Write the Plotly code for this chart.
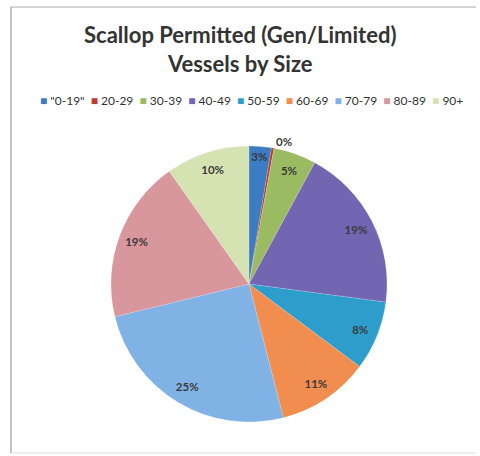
import plotly.graph_objects as go

categories = ['"0-19"', "20-29", "30-39", "40-49", "50-59", "60-69", "70-79", "80-89", "90+"]
shares = [2.6, 0.3, 5.0, 19.2, 8.1, 10.8, 25.2, 19.0, 9.8]
colors = ["#3b7cc2", "#c0392b", "#9bbb62", "#7266b2", "#2d9dcc", "#f08d4f", "#80b2e6", "#d8969d", "#d5e3b3"]
text_pos = ["inside", "outside", "inside", "inside", "inside", "inside", "inside", "inside", "inside"]

W, H = 480, 456
dom = dict(x=[111 / W, 387 / W], y=[1 - 422 / H, 1 - 146 / H])

fig = go.Figure()
# filled pie
fig.add_trace(go.Pie(
    labels=categories, values=shares, sort=False, direction="clockwise", rotation=0,
    marker=dict(colors=colors, line=dict(color="rgba(255,255,255,0.3)", width=0.5)),
    textinfo="none", domain=dom, showlegend=False, hoverinfo="label+percent",
))
# transparent ring carrying the percentage labels near the rim
fig.add_trace(go.Pie(
    labels=categories, values=shares, sort=False, direction="clockwise", rotation=0,
    hole=0.74,
    marker=dict(colors=["rgba(0,0,0,0)"] * len(shares), line=dict(width=0)),
    texttemplate="<b>%{percent:.0%}</b>",
    textposition=text_pos,
    insidetextorientation="horizontal",
    textfont=dict(family="Lato", size=11.5, color="#3a3a3a"),
    domain=dom, showlegend=False, hoverinfo="skip",
))

legend_html = "&nbsp;&nbsp;".join(
    f'<span style="color:{c}">■</span> {lab}' for lab, c in zip(categories, colors)
)

fig.update_layout(
    width=W, height=H,
    margin=dict(l=0, r=0, t=0, b=0),
    paper_bgcolor="white",
    uniformtext=dict(minsize=11.5, mode="show"),
    font=dict(family="Lato", color="#333333"),
    annotations=[
        dict(text="<b>Scallop Permitted (Gen/Limited)<br>Vessels by Size</b>",
             x=0.5, y=1 - 49 / H, xref="paper", yref="paper", showarrow=False,
             font=dict(family="Lato", size=22, color="#333333"),
             xanchor="center", yanchor="middle"),
        dict(text=legend_html, x=251 / W, y=1 - 101 / H, xref="paper", yref="paper",
             showarrow=False, font=dict(family="Lato", size=12, color="#333333"),
             xanchor="center", yanchor="middle"),
    ],
    shapes=[
        dict(type="line", xref="paper", yref="paper", x0=11 / W, x1=11 / W, y0=1 - 7 / H, y1=1 - 453 / H,
             line=dict(color="#888888", width=1)),
        dict(type="line", xref="paper", yref="paper", x0=11 / W, x1=476 / W, y0=1 - 7 / H, y1=1 - 7 / H,
             line=dict(color="#aaaaaa", width=1)),
        dict(type="line", xref="paper", yref="paper", x0=11 / W, x1=476 / W, y0=1 - 453 / H, y1=1 - 453 / H,
             line=dict(color="#dddddd", width=1)),
    ],
)

fig.write_html("out.html", config={"displayModeBar": False},
               post_script="document.body.style.margin='0';document.body.style.overflow='hidden';")
